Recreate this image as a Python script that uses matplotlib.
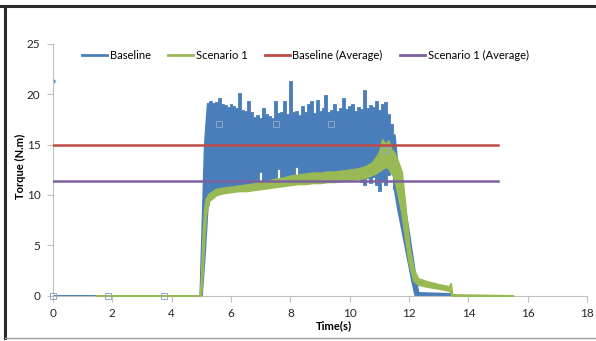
import matplotlib
matplotlib.use("Agg")
import matplotlib.pyplot as plt
from matplotlib.lines import Line2D

plt.rcParams["font.family"] = ["Lato", "DejaVu Sans"]

# Baseline torque: time, upper and lower envelope of the oscillating signal
base_t = [0.0, 4.95, 5.0, 5.1,
          5.2, 5.3, 5.4, 5.5, 5.6, 5.7, 5.8, 5.9, 6.0, 6.1, 6.2, 6.3, 6.4, 6.5, 6.6, 6.7,
          6.8, 6.9, 7.0, 7.1, 7.2, 7.3, 7.4, 7.5, 7.6, 7.7, 7.8, 7.9, 8.0, 8.1, 8.2, 8.3,
          8.4, 8.5, 8.6, 8.7, 8.8, 8.9, 9.0, 9.1, 9.2, 9.3, 9.4, 9.5, 9.6, 9.7, 9.8, 9.9,
          10.0, 10.1, 10.2, 10.3, 10.4, 10.5, 10.6, 10.7, 10.8, 10.9, 11.0, 11.1, 11.2,
          11.3, 11.4, 11.5,
          11.6, 11.7, 11.8, 11.9, 12.0, 12.1, 12.2, 12.3, 13.4, 13.45]
base_hi = [0.0, 0.0, 5.0, 15.0,
           19.1, 19.3, 19.1, 19.2, 19.6, 19.0, 18.9, 18.7, 19.0, 18.8, 18.6, 20.1, 18.4, 18.3, 19.3, 18.2,
           17.7, 17.9, 17.6, 18.6, 18.0, 17.8, 17.6, 19.3, 18.1, 18.2, 19.3, 18.0, 21.3, 18.2, 18.3, 17.9,
           18.8, 18.2, 19.0, 19.3, 18.1, 19.4, 18.3, 18.6, 19.9, 18.2, 18.4, 19.0, 18.3, 18.6, 19.6, 18.5,
           18.8, 19.0, 18.3, 18.7, 18.5, 20.4, 18.6, 18.9, 18.7, 19.3, 18.4, 19.0, 19.2,
           18.0, 17.0, 16.0,
           13.0, 11.2, 9.5, 7.8, 6.0, 4.0, 2.0, 0.3, 0.2, 0.0]
base_lo = [0.0, 0.0, 0.0, 4.0,
           9.0, 10.2, 10.3, 10.4, 10.3, 10.5, 10.4, 10.6, 10.5, 10.7, 10.6, 10.8, 10.7, 10.8, 10.7, 10.9,
           10.8, 11.0, 12.3, 11.1, 11.0, 11.2, 11.1, 11.3, 12.6, 11.4, 11.3, 11.5, 11.4, 11.6, 12.8, 11.7,
           11.5, 11.8, 12.2, 11.7, 11.6, 11.8, 11.7, 11.9, 11.7, 11.8, 11.7, 11.9, 11.7, 11.8, 11.6, 11.9,
           11.7, 11.8, 11.6, 11.9, 11.3, 11.0, 11.7, 11.2, 11.8, 11.0, 10.4, 11.5, 11.0,
           12.0, 12.3, 10.6,
           8.8, 7.3, 5.8, 4.3, 2.8, 1.3, 0.0, 0.0, 0.0, 0.0]

# Scenario 1 torque: time, upper and lower envelope
scen_t = [1.45, 4.95, 5.0, 5.05, 5.1, 5.15, 5.25, 5.5, 5.75, 6.0, 6.25, 6.5, 6.75, 7.0,
          7.25, 7.5, 7.75, 8.0, 8.25, 8.5, 8.75, 9.0, 9.25, 9.5, 9.75, 10.0, 10.25,
          10.5, 10.75, 10.9, 11.0, 11.1, 11.2, 11.3, 11.4, 11.5, 11.6, 11.75, 11.9,
          12.0, 12.15, 12.3, 12.6, 13.0, 13.35, 13.4, 13.45, 15.5]
scen_hi = [0.0, 0.0, 2.0, 6.0, 8.5, 9.6, 10.1, 10.6, 10.7, 10.8, 10.9, 11.0, 11.1, 11.3,
           11.4, 11.6, 11.7, 11.9, 12.0, 12.1, 12.2, 12.2, 12.3, 12.3, 12.4, 12.5, 12.6,
           12.8, 13.2, 13.8, 14.3, 15.5, 15.0, 15.4, 14.5, 14.2, 13.5, 12.3, 8.0,
           5.0, 2.6, 1.7, 1.4, 1.1, 0.9, 1.2, 0.1, 0.0]
scen_lo = [0.0, 0.0, 0.5, 3.0, 6.0, 8.0, 9.4, 10.0, 10.2, 10.3, 10.4, 10.4, 10.5, 10.6,
           10.7, 10.8, 10.9, 11.0, 11.1, 11.1, 11.2, 11.2, 11.3, 11.3, 11.4, 11.5, 11.6,
           11.7, 12.0, 12.2, 12.4, 12.6, 12.8, 12.7, 12.2, 11.7, 10.4, 8.2, 5.2,
           3.2, 1.5, 1.1, 0.9, 0.7, 0.5, 0.3, 0.0, 0.0]

base_first = (0.0, 21.3)
avg_t = [0.0, 15.0]
base_avg = 15.0
scen_avg = 11.4

handle_t = [0.0, 1.85, 3.75, 5.6, 7.5, 9.38, 11.23]
handle_y = [0.0, 0.0, 0.0, 17.0, 17.0, 17.0, 14.5]

blue = "#4A7EBB"
green = "#98B954"
red = "#BE4B48"
purple = "#7D60A0"

fig = plt.figure(figsize=(5.96, 3.41), dpi=100)
ax = fig.add_axes([0.0889, 0.1334, 0.8961, 0.7376])

# noisy plateau drawn as vertical bars, ramps drawn as straight segments
i0 = base_t.index(5.2)
i1 = base_t.index(11.5) + 1
ax.fill_between(base_t[:i0 + 1], base_lo[:i0 + 1], base_hi[:i0 + 1], color=blue,
                linewidth=1.4, edgecolor=blue, zorder=2)
ax.fill_between(base_t[i0:i1], base_lo[i0:i1], base_hi[i0:i1], step="mid", color=blue,
                linewidth=0.6, edgecolor=blue, zorder=2)
ax.fill_between(base_t[i1 - 1:], base_lo[i1 - 1:], base_hi[i1 - 1:], color=blue,
                linewidth=1.4, edgecolor=blue, zorder=2)
ax.plot([base_first[0]], [base_first[1]], "o", color=blue, markersize=2, zorder=2)
ax.fill_between(scen_t, scen_lo, scen_hi, color=green, linewidth=1.4, edgecolor=green, zorder=3)
ax.plot(avg_t, [base_avg, base_avg], color=red, linewidth=1.8, zorder=4)
ax.plot(avg_t, [scen_avg, scen_avg], color=purple, linewidth=1.8, zorder=4)
ax.plot(handle_t, handle_y, "s", linestyle="none", markersize=4, markerfacecolor="none",
        markeredgecolor="#8FA7C4", markeredgewidth=0.7, zorder=5, clip_on=False)

ax.set_xlim(0, 18)
ax.set_ylim(0, 25)
ax.set_xticks(range(0, 19, 2))
ax.set_yticks(range(0, 26, 5))
for s in ["top", "right"]:
    ax.spines[s].set_visible(False)
for s in ["left", "bottom"]:
    ax.spines[s].set_color("#BFBFBF")
    ax.spines[s].set_linewidth(0.8)
ax.tick_params(axis="both", length=4, width=0.8, color="#BFBFBF", pad=5, labelsize=8.5,
               labelcolor="#262626")

fig.text(334 / 596, 1 - 326 / 341, "Time(s)", ha="center", va="center", fontsize=8, fontweight="bold")
fig.text(20 / 596, 1 - 166 / 341, "Torque (N.m)", ha="center", va="center", rotation=90,
         fontsize=8, fontweight="bold")

handles = [Line2D([], [], color=blue, linewidth=2),
           Line2D([], [], color=green, linewidth=2),
           Line2D([], [], color=red, linewidth=2),
           Line2D([], [], color=purple, linewidth=2)]
labels = ["Baseline", "Scenario 1", "Baseline (Average)", "Scenario 1 (Average)"]
fig.legend(handles, labels, loc="center", bbox_to_anchor=(305.5 / 596, 1 - 55 / 341), ncol=4,
           frameon=False, fontsize=8, handlelength=2.25, handletextpad=0.2, columnspacing=1.6)

# outer frame of the picture
fig.add_artist(Line2D([0, 1], [1 - 6 / 341] * 2, color="#2B2B2B", linewidth=2.2, transform=fig.transFigure))
fig.add_artist(Line2D([5 / 596] * 2, [1 - 338 / 341, 1 - 6 / 341], color="#2B2B2B", linewidth=2.2,
                      transform=fig.transFigure))
fig.add_artist(Line2D([5 / 596, 1], [1 - 338 / 341] * 2, color="#A0A0A0", linewidth=1.0,
                      transform=fig.transFigure))

fig.savefig("out.png", dpi=100)
